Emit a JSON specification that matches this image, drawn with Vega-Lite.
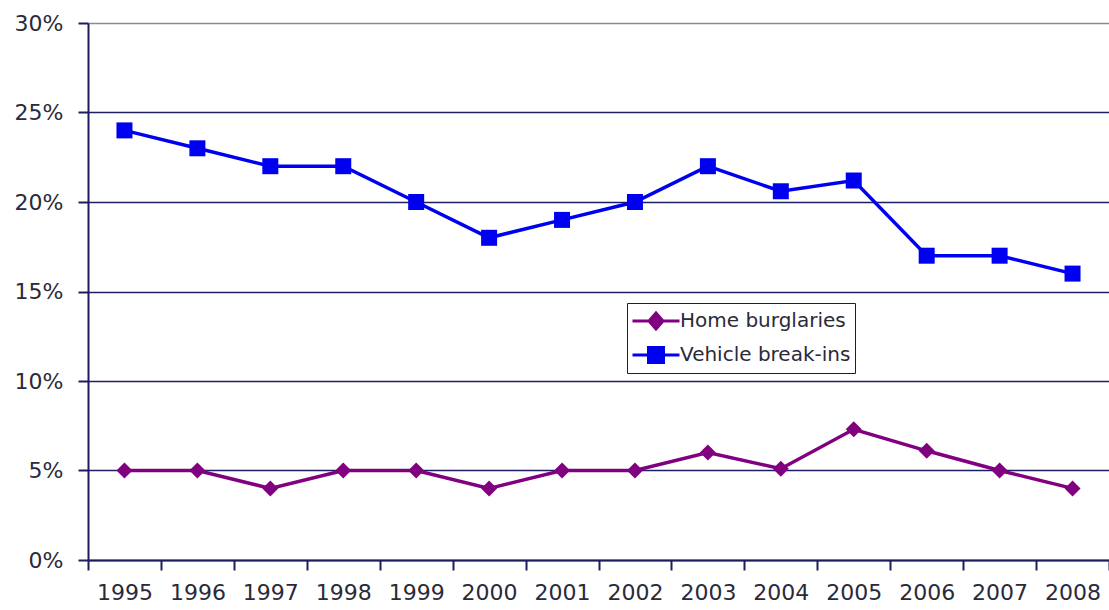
{
  "$schema": "https://vega.github.io/schema/vega-lite/v6.json",
  "autosize": {"type": "none"},
  "padding": {"left": 88, "top": 23, "right": 0, "bottom": 50},
  "width": 1021,
  "height": 537,
  "background": "white",
  "data": {
    "values": [
      {"year": "1995", "series": "Home burglaries", "rate": 0.05},
      {"year": "1996", "series": "Home burglaries", "rate": 0.05},
      {"year": "1997", "series": "Home burglaries", "rate": 0.04},
      {"year": "1998", "series": "Home burglaries", "rate": 0.05},
      {"year": "1999", "series": "Home burglaries", "rate": 0.05},
      {"year": "2000", "series": "Home burglaries", "rate": 0.04},
      {"year": "2001", "series": "Home burglaries", "rate": 0.05},
      {"year": "2002", "series": "Home burglaries", "rate": 0.05},
      {"year": "2003", "series": "Home burglaries", "rate": 0.06},
      {"year": "2004", "series": "Home burglaries", "rate": 0.051},
      {"year": "2005", "series": "Home burglaries", "rate": 0.073},
      {"year": "2006", "series": "Home burglaries", "rate": 0.061},
      {"year": "2007", "series": "Home burglaries", "rate": 0.05},
      {"year": "2008", "series": "Home burglaries", "rate": 0.04},
      {"year": "1995", "series": "Vehicle break-ins", "rate": 0.24},
      {"year": "1996", "series": "Vehicle break-ins", "rate": 0.23},
      {"year": "1997", "series": "Vehicle break-ins", "rate": 0.22},
      {"year": "1998", "series": "Vehicle break-ins", "rate": 0.22},
      {"year": "1999", "series": "Vehicle break-ins", "rate": 0.20},
      {"year": "2000", "series": "Vehicle break-ins", "rate": 0.18},
      {"year": "2001", "series": "Vehicle break-ins", "rate": 0.19},
      {"year": "2002", "series": "Vehicle break-ins", "rate": 0.20},
      {"year": "2003", "series": "Vehicle break-ins", "rate": 0.22},
      {"year": "2004", "series": "Vehicle break-ins", "rate": 0.206},
      {"year": "2005", "series": "Vehicle break-ins", "rate": 0.212},
      {"year": "2006", "series": "Vehicle break-ins", "rate": 0.17},
      {"year": "2007", "series": "Vehicle break-ins", "rate": 0.17},
      {"year": "2008", "series": "Vehicle break-ins", "rate": 0.16}
    ]
  },
  "encoding": {
    "x": {
      "field": "year", "type": "ordinal",
      "scale": {"type": "band", "paddingInner": 0, "paddingOuter": 0},
      "axis": {
        "title": null, "labelAngle": 0, "tickBand": "extent",
        "domainColor": "#1c1c5e", "domainWidth": 2,
        "tickColor": "#1c1c5e", "tickWidth": 2, "tickSize": 10,
        "labelPadding": 12, "labelFont": "DejaVu Sans", "labelFontSize": 22,
        "labelColor": "#2a2a3a", "grid": false
      }
    },
    "y": {
      "field": "rate", "type": "quantitative",
      "scale": {"domain": [0, 0.3], "nice": false},
      "axis": {
        "title": null, "values": [0, 0.05, 0.1, 0.15, 0.2, 0.25, 0.3], "format": ".0%",
        "domainColor": "#1c1c5e", "domainWidth": 2,
        "tickColor": "#1c1c5e", "tickWidth": 2, "tickSize": 10,
        "labelPadding": 15, "labelFont": "DejaVu Sans", "labelFontSize": 22,
        "labelColor": "#2a2a3a",
        "grid": true, "gridWidth": 1.6,
        "gridColor": {"condition": {"test": "datum.value >= 0.3", "value": "#8c8c8c"}, "value": "#1e1e60"}
      }
    },
    "color": {
      "field": "series", "type": "nominal",
      "scale": {"domain": ["Home burglaries", "Vehicle break-ins"], "range": ["#800080", "#0000f0"]},
      "legend": {
        "title": null, "orient": "none", "legendX": 539, "legendY": 280,
        "direction": "vertical",
        "strokeColor": "#1c1c40", "fillColor": "white", "padding": 4,
        "labelFont": "DejaVu Sans", "labelFontSize": 20, "labelColor": "#2a2a3a", "labelLimit": 400,
        "symbolSize": 625, "symbolStrokeWidth": 3, "labelOffset": 21, "rowPadding": 6,
        "encode": {
          "symbols": {
            "update": {
              "shape": {"signal": "datum.value === 'Home burglaries' ? 'M-1,0H2.76M0.88,-0.64L1.44,0L0.88,0.64L0.32,0Z' : 'M-1,0H2.76M0.28,-0.6H1.48V0.6H0.28Z'"},
              "fill": {"signal": "scale('color', datum.value)"},
              "stroke": {"signal": "scale('color', datum.value)"},
              "strokeWidth": {"value": 3},
              "opacity": {"value": 1}
            }
          }
        }
      }
    }
  },
  "layer": [
    {"mark": {"type": "line", "strokeWidth": 3.5}},
    {
      "transform": [{"filter": "datum.series === 'Home burglaries'"}],
      "mark": {"type": "point", "filled": true, "opacity": 1, "size": 256, "shape": "diamond"}
    },
    {
      "transform": [{"filter": "datum.series === 'Vehicle break-ins'"}],
      "mark": {"type": "point", "filled": true, "opacity": 1, "size": 256, "shape": "square"}
    }
  ],
  "config": {"view": {"stroke": null}}
}
